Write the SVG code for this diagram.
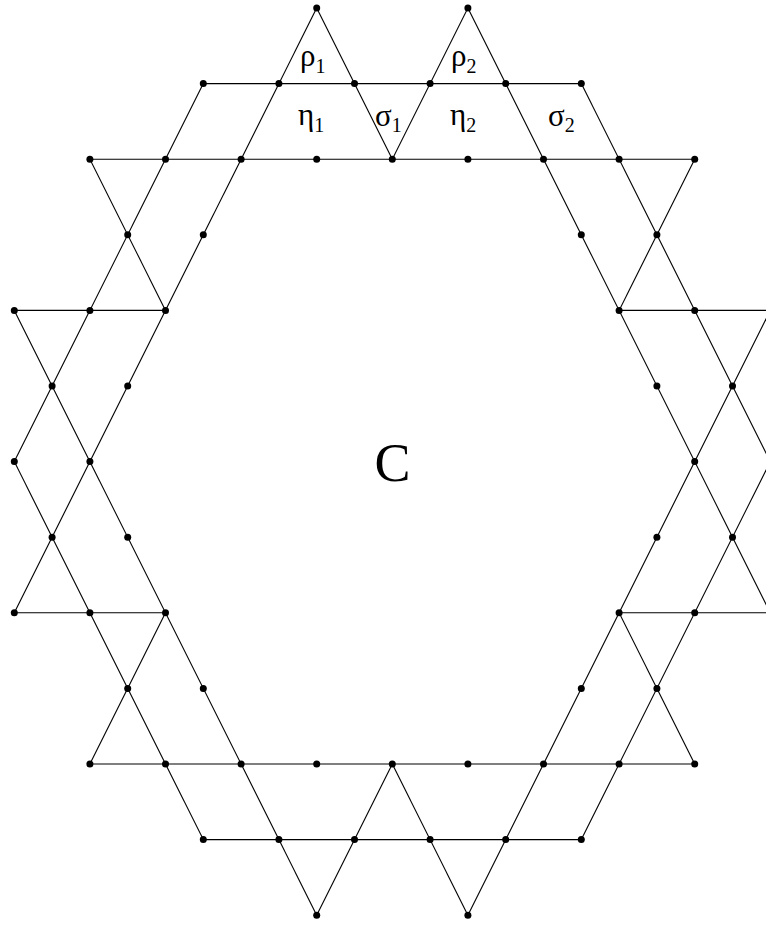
<svg xmlns="http://www.w3.org/2000/svg" width="766" height="926" viewBox="0 0 766 926">
<style>
.e{stroke:#000;stroke-width:1.1;fill:none}
.d{fill:#000}
.g{font-family:"Liberation Serif","Times New Roman",serif;font-size:31px;fill:#000}
.s{font-size:20px}
.c{font-family:"Liberation Serif","Times New Roman",serif;font-size:54px;fill:#000;text-anchor:middle}
</style>
<rect width="766" height="926" fill="#fff"/>
<g id="edges" class="e">
<line x1="203.3" y1="83.6" x2="581.3" y2="83.6"/>
<line x1="89.9" y1="159.2" x2="694.7" y2="159.2"/>
<line x1="14.3" y1="310.4" x2="165.5" y2="310.4"/>
<line x1="619.1" y1="310.4" x2="770.3" y2="310.4"/>
<line x1="14.3" y1="612.8" x2="165.5" y2="612.8"/>
<line x1="619.1" y1="612.8" x2="770.3" y2="612.8"/>
<line x1="89.9" y1="764" x2="694.7" y2="764"/>
<line x1="203.3" y1="839.6" x2="581.3" y2="839.6"/>
<line x1="203.3" y1="83.6" x2="14.3" y2="461.6"/>
<line x1="316.7" y1="8" x2="14.3" y2="612.8"/>
<line x1="89.9" y1="159.2" x2="165.5" y2="310.4"/>
<line x1="14.3" y1="310.4" x2="316.7" y2="915.2"/>
<line x1="467.9" y1="8" x2="392.3" y2="159.2"/>
<line x1="694.7" y1="159.2" x2="619.1" y2="310.4"/>
<line x1="581.3" y1="83.6" x2="770.3" y2="461.6"/>
<line x1="467.9" y1="8" x2="770.3" y2="612.8"/>
<line x1="770.3" y1="310.4" x2="467.9" y2="915.2"/>
<line x1="316.7" y1="8" x2="392.3" y2="159.2"/>
<line x1="203.3" y1="839.6" x2="14.3" y2="461.6"/>
<line x1="89.9" y1="764" x2="165.5" y2="612.8"/>
<line x1="467.9" y1="915.2" x2="392.3" y2="764"/>
<line x1="694.7" y1="764" x2="619.1" y2="612.8"/>
<line x1="581.3" y1="839.6" x2="770.3" y2="461.6"/>
<line x1="316.7" y1="915.2" x2="392.3" y2="764"/>
</g>
<g id="nodes" class="d">
<g id="n8_0"><circle cx="316.7" cy="8" r="3.5"/></g>
<g id="n12_0"><circle cx="467.9" cy="8" r="3.5"/></g>
<g id="n5_1"><circle cx="203.3" cy="83.6" r="3.5"/></g>
<g id="n7_1"><circle cx="278.9" cy="83.6" r="3.5"/></g>
<g id="n9_1"><circle cx="354.5" cy="83.6" r="3.5"/></g>
<g id="n11_1"><circle cx="430.1" cy="83.6" r="3.5"/></g>
<g id="n13_1"><circle cx="505.7" cy="83.6" r="3.5"/></g>
<g id="n15_1"><circle cx="581.3" cy="83.6" r="3.5"/></g>
<g id="n2_2"><circle cx="89.9" cy="159.2" r="3.5"/></g>
<g id="n4_2"><circle cx="165.5" cy="159.2" r="3.5"/></g>
<g id="n6_2"><circle cx="241.1" cy="159.2" r="3.5"/></g>
<g id="n8_2"><circle cx="316.7" cy="159.2" r="3.5"/></g>
<g id="n10_2"><circle cx="392.3" cy="159.2" r="3.5"/></g>
<g id="n12_2"><circle cx="467.9" cy="159.2" r="3.5"/></g>
<g id="n14_2"><circle cx="543.5" cy="159.2" r="3.5"/></g>
<g id="n16_2"><circle cx="619.1" cy="159.2" r="3.5"/></g>
<g id="n18_2"><circle cx="694.7" cy="159.2" r="3.5"/></g>
<g id="n3_3"><circle cx="127.7" cy="234.8" r="3.5"/></g>
<g id="n5_3"><circle cx="203.3" cy="234.8" r="3.5"/></g>
<g id="n15_3"><circle cx="581.3" cy="234.8" r="3.5"/></g>
<g id="n17_3"><circle cx="656.9" cy="234.8" r="3.5"/></g>
<g id="n0_4"><circle cx="14.3" cy="310.4" r="3.5"/></g>
<g id="n2_4"><circle cx="89.9" cy="310.4" r="3.5"/></g>
<g id="n4_4"><circle cx="165.5" cy="310.4" r="3.5"/></g>
<g id="n16_4"><circle cx="619.1" cy="310.4" r="3.5"/></g>
<g id="n18_4"><circle cx="694.7" cy="310.4" r="3.5"/></g>
<g id="n20_4"><circle cx="770.3" cy="310.4" r="3.5"/></g>
<g id="n1_5"><circle cx="52.1" cy="386" r="3.5"/></g>
<g id="n3_5"><circle cx="127.7" cy="386" r="3.5"/></g>
<g id="n17_5"><circle cx="656.9" cy="386" r="3.5"/></g>
<g id="n19_5"><circle cx="732.5" cy="386" r="3.5"/></g>
<g id="n0_6"><circle cx="14.3" cy="461.6" r="3.5"/></g>
<g id="n2_6"><circle cx="89.9" cy="461.6" r="3.5"/></g>
<g id="n18_6"><circle cx="694.7" cy="461.6" r="3.5"/></g>
<g id="n20_6"><circle cx="770.3" cy="461.6" r="3.5"/></g>
<g id="n1_7"><circle cx="52.1" cy="537.2" r="3.5"/></g>
<g id="n3_7"><circle cx="127.7" cy="537.2" r="3.5"/></g>
<g id="n17_7"><circle cx="656.9" cy="537.2" r="3.5"/></g>
<g id="n19_7"><circle cx="732.5" cy="537.2" r="3.5"/></g>
<g id="n0_8"><circle cx="14.3" cy="612.8" r="3.5"/></g>
<g id="n2_8"><circle cx="89.9" cy="612.8" r="3.5"/></g>
<g id="n4_8"><circle cx="165.5" cy="612.8" r="3.5"/></g>
<g id="n16_8"><circle cx="619.1" cy="612.8" r="3.5"/></g>
<g id="n18_8"><circle cx="694.7" cy="612.8" r="3.5"/></g>
<g id="n20_8"><circle cx="770.3" cy="612.8" r="3.5"/></g>
<g id="n3_9"><circle cx="127.7" cy="688.4" r="3.5"/></g>
<g id="n5_9"><circle cx="203.3" cy="688.4" r="3.5"/></g>
<g id="n15_9"><circle cx="581.3" cy="688.4" r="3.5"/></g>
<g id="n17_9"><circle cx="656.9" cy="688.4" r="3.5"/></g>
<g id="n2_10"><circle cx="89.9" cy="764" r="3.5"/></g>
<g id="n4_10"><circle cx="165.5" cy="764" r="3.5"/></g>
<g id="n6_10"><circle cx="241.1" cy="764" r="3.5"/></g>
<g id="n8_10"><circle cx="316.7" cy="764" r="3.5"/></g>
<g id="n10_10"><circle cx="392.3" cy="764" r="3.5"/></g>
<g id="n12_10"><circle cx="467.9" cy="764" r="3.5"/></g>
<g id="n14_10"><circle cx="543.5" cy="764" r="3.5"/></g>
<g id="n16_10"><circle cx="619.1" cy="764" r="3.5"/></g>
<g id="n18_10"><circle cx="694.7" cy="764" r="3.5"/></g>
<g id="n5_11"><circle cx="203.3" cy="839.6" r="3.5"/></g>
<g id="n7_11"><circle cx="278.9" cy="839.6" r="3.5"/></g>
<g id="n9_11"><circle cx="354.5" cy="839.6" r="3.5"/></g>
<g id="n11_11"><circle cx="430.1" cy="839.6" r="3.5"/></g>
<g id="n13_11"><circle cx="505.7" cy="839.6" r="3.5"/></g>
<g id="n15_11"><circle cx="581.3" cy="839.6" r="3.5"/></g>
<g id="n8_12"><circle cx="316.7" cy="915.2" r="3.5"/></g>
<g id="n12_12"><circle cx="467.9" cy="915.2" r="3.5"/></g>
</g>
<g id="labels">
<text class="g" x="300" y="66">ρ<tspan class="s" dy="7">1</tspan></text>
<text class="g" x="451" y="66">ρ<tspan class="s" dy="7">2</tspan></text>
<text class="g" x="298" y="125">η<tspan class="s" dy="7">1</tspan></text>
<text class="g" x="450" y="125">η<tspan class="s" dy="7">2</tspan></text>
<text class="g" x="375" y="126">σ<tspan class="s" dy="6">1</tspan></text>
<text class="g" x="548" y="126">σ<tspan class="s" dy="6">2</tspan></text>
<text class="c" x="392.5" y="481">C</text>
</g>
</svg>
